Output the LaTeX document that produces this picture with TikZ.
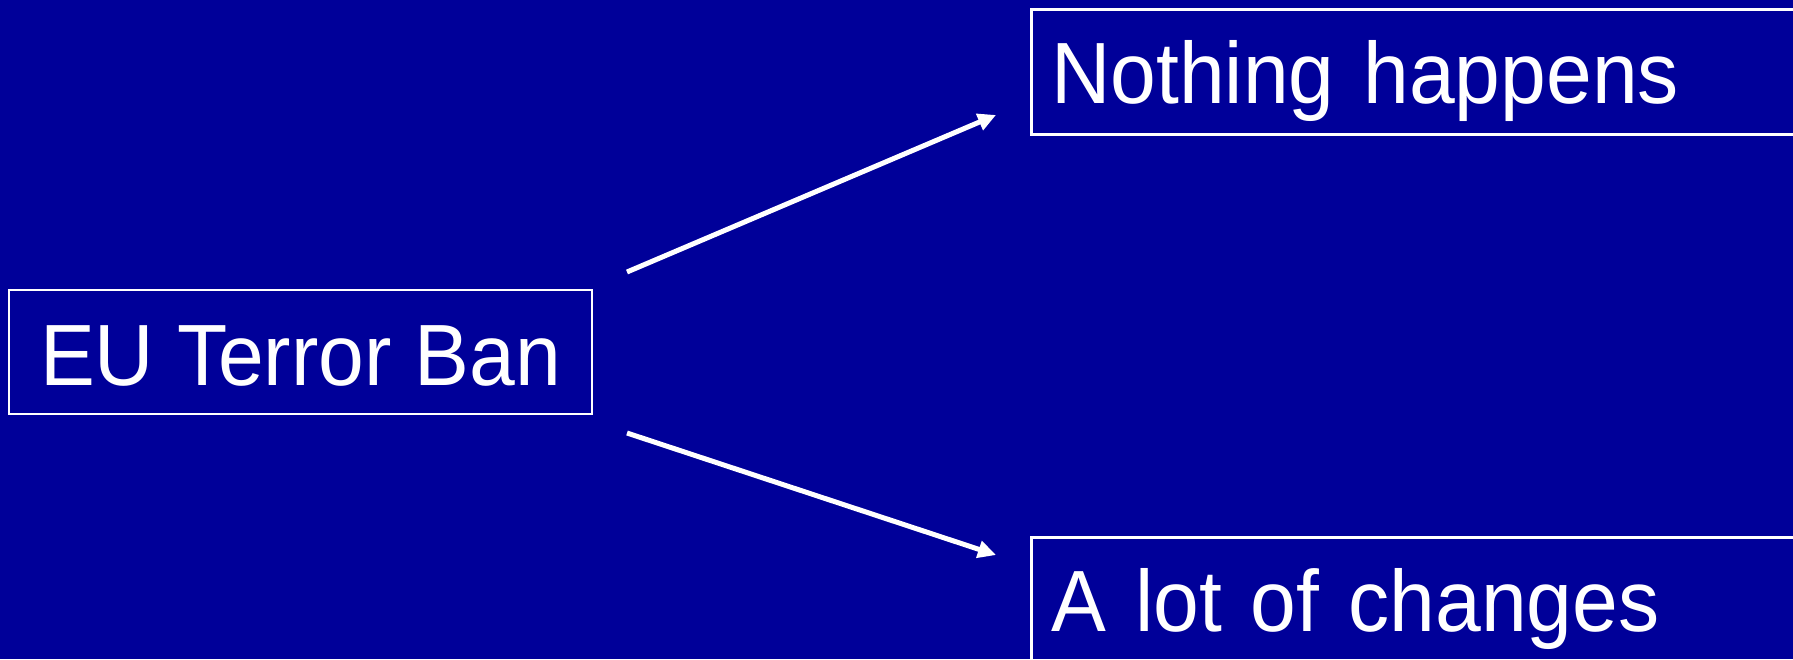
\documentclass[tikz,border=0pt]{standalone}
\usepackage{fontspec}
\setmainfont{Liberation Sans}[FakeStretch=0.945]
\usetikzlibrary{arrows.meta}
\definecolor{bgblue}{RGB}{0,0,153}
\begin{document}
\begin{tikzpicture}[x=1pt,y=-1pt,
  box/.style={draw=white,line width=2.5pt,inner sep=0pt,text=white,
    font=\fontsize{87}{95}\selectfont},
  conn/.style={white,line width=5pt,-{Triangle[length=18pt,width=17pt]}}]
\fill[bgblue] (0,0) rectangle (1793,659);
\useasboundingbox (0,0) rectangle (1793,659);
\clip (0,0) rectangle (1793,659);
\node[box,minimum width=583pt,minimum height=124pt,text height=66pt,text depth=0pt] (eu) at (300.5,352) {EU Terror Ban};
\node[box,anchor=north west,minimum height=125pt,text width=780pt,align=left,inner xsep=20pt,text height=63pt,text depth=0pt] (nothing) at (1030,8) {Nothing happens};
\node[box,anchor=north west,minimum height=150pt,text width=780pt,align=left,inner xsep=20pt,text height=38pt,text depth=0pt] (alot) at (1030,536) {A lot of changes};
\coordinate (s1) at (627,272);
\coordinate (e1) at (996,115);
\coordinate (s2) at (627,433);
\coordinate (e2) at (996,555);
\draw[conn] (s1) -- (e1);
\draw[conn] (s2) -- (e2);
\end{tikzpicture}
\end{document}
